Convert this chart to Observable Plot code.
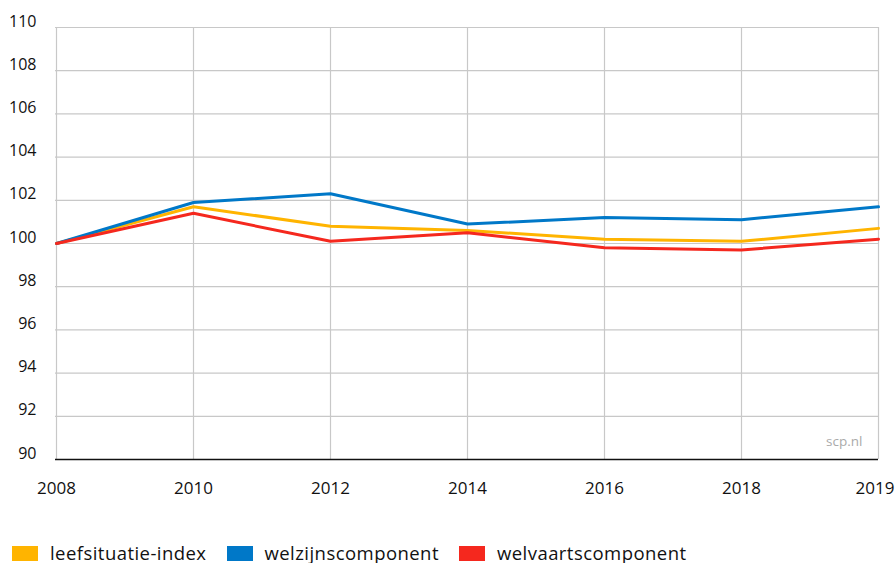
<!DOCTYPE html>
<html><head><meta charset="utf-8">
<script src="https://cdn.jsdelivr.net/npm/d3@7"></script>
<script src="https://cdn.jsdelivr.net/npm/@observablehq/plot@0.6"></script>
<style>
body{margin:0;background:#fff;font-family:"Open Sans",sans-serif;overflow:hidden;}
#chart svg{display:block;}
#legend{display:flex;align-items:center;margin-top:31px;padding-left:12px;font-size:18.5px;letter-spacing:0.45px;line-height:20px;color:#111;height:20px;}
.item{display:flex;align-items:center;margin-right:20px;}
.sw{width:26px;height:15px;margin-right:12px;}
</style></head><body><div id="chart"></div><div id="legend"></div>
<script>
const years = ["2008","2010","2012","2014","2016","2018","2019"];
const leefsituatie = [100, 101.7, 100.8, 100.6, 100.2, 100.1, 100.7];
const welzijn = [100, 101.9, 102.3, 100.9, 101.2, 101.1, 101.7];
const welvaart = [100, 101.4, 100.1, 100.5, 99.8, 99.7, 100.2];
const seriesNames = ["leefsituatie-index", "welzijnscomponent", "welvaartscomponent"];
const seriesColors = ["#ffb400", "#0078c8", "#f5281e"];
const yTicks = [90, 92, 94, 96, 98, 100, 102, 104, 106, 108, 110];

const data = [];
[leefsituatie, welzijn, welvaart].forEach((vals, i) =>
  vals.forEach((v, j) => data.push({year: years[j], value: v, series: seriesNames[i]})));

const lastYear = years[years.length - 1];

const chart = Plot.plot({
  width: 896, height: 512,
  marginLeft: 55, marginRight: 18, marginTop: 27, marginBottom: 53,
  style: {fontFamily: "Open Sans", fontSize: "15px", color: "#111", background: "#fff"},
  x: {type: "point", domain: years, padding: 0},
  y: {domain: [90, 110]},
  color: {domain: seriesNames, range: seriesColors},
  marks: [
    Plot.ruleY(yTicks.filter(d => d > 90), {stroke: "#c8c8c8", strokeWidth: 1.2}),
    Plot.ruleX(years, {stroke: "#c8c8c8", strokeWidth: 1.2}),
    Plot.ruleY([90], {stroke: "#111", strokeWidth: 1.5}),
    Plot.axisY(yTicks, {tickSize: 0, tickPadding: 19, dy: -6, fontSize: 16, label: null}),
    Plot.axisX(years.slice(0, -1), {tickSize: 0, tickPadding: 22, fontSize: 17, label: null}),
    Plot.text([lastYear], {x: d => d, frameAnchor: "bottom", textAnchor: "end", lineAnchor: "top", dx: 16, dy: 22, fontSize: 17, fill: "#111"}),
    Plot.lineY(data, {x: "year", y: "value", stroke: "series", strokeWidth: 3}),
    Plot.text(["scp.nl"], {frameAnchor: "bottom-right", dx: -16, dy: -14, fill: "#aaa", fontSize: 13.5})
  ]
});
document.getElementById("chart").append(chart);

const legend = document.getElementById("legend");
seriesNames.forEach((n, i) => {
  const it = document.createElement("div");
  it.className = "item";
  it.innerHTML = `<div class="sw" style="background:${seriesColors[i]}"></div><span>${n}</span>`;
  legend.append(it);
});
</script>
</body></html>
